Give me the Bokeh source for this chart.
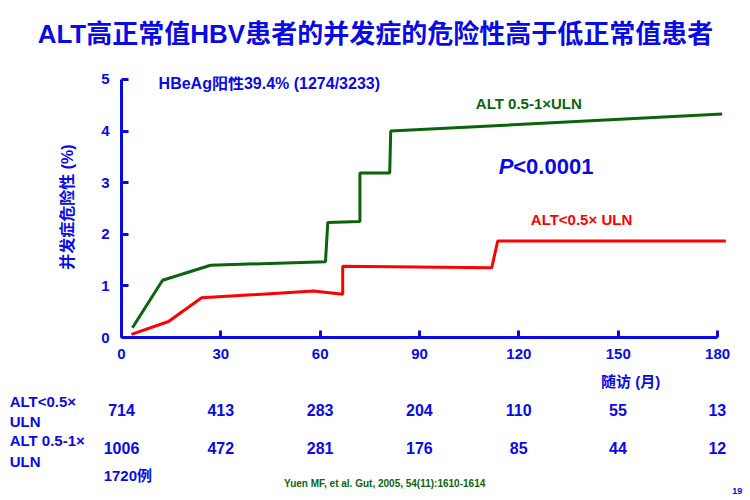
from bokeh.plotting import figure
from bokeh.layouts import column
from bokeh.models import Range1d, FixedTicker, Label, LabelSet, ColumnDataSource
from bokeh.core.properties import value
from bokeh.embed import file_html
from bokeh.resources import INLINE

BLUE = "#0A0AE6"
GREEN = "#0B640B"
RED = "#FF0000"
FONT = "Liberation Sans, Noto Sans CJK SC"

# Cumulative risk curves (months, %)
green_months = [3.3, 12.4, 26.9, 61.6, 62.3, 72.0, 72.0, 81.0, 81.3, 181.4]
green_risk = [0.19, 1.11, 1.40, 1.47, 2.23, 2.25, 3.19, 3.19, 4.00, 4.33]
red_months = [3.0, 14.2, 24.2, 58.0, 66.8, 66.8, 111.8, 113.6, 182.5]
red_risk = [0.06, 0.31, 0.77, 0.90, 0.84, 1.38, 1.35, 1.87, 1.87]

x_ticks = [0, 30, 60, 90, 120, 150, 180]
y_ticks = [0, 1, 2, 3, 4, 5]

# Number at risk
risk_months = [0, 30, 60, 90, 120, 150, 180]
at_risk_low = [714, 413, 283, 204, 110, 55, 13]
at_risk_high = [1006, 472, 281, 176, 85, 44, 12]

title_text = "ALT高正常值HBV患者的并发症的危险性高于低正常值患者"
y_label = "并发症危险性 (%)"

X_FULL = (-36.56, 190.03)   # x scale across the full 750 px width


def bare(height, yr):
    f = figure(width=750, height=height, output_backend="svg", toolbar_location=None,
               x_range=Range1d(*X_FULL), y_range=Range1d(*yr),
               x_axis_type=None, y_axis_type=None, frame_align=False,
               min_border_left=0, min_border_right=0, min_border_top=0, min_border_bottom=0)
    f.outline_line_color = None
    f.xgrid.visible = False
    f.ygrid.visible = False
    f.title.text = ""
    return f


def lab(fig, x, y, text, size, color=BLUE, align="left", style="bold"):
    fig.add_layout(Label(x=x, y=y, text=text, text_font=FONT, text_font_size=size,
                         text_font_style=style, text_color=color, text_align=align,
                         text_baseline="middle"))


# ---- title strip ----
top = bare(60, (5.368, 6.531))
lab(top, 76.7, 5.89, title_text, "26px", align="center")

# ---- main chart ----
p = figure(width=750, height=310, output_backend="svg", toolbar_location=None,
           x_range=Range1d(0, 183), y_range=Range1d(0, 5.058), frame_align=False,
           min_border_left=121, min_border_right=23, min_border_top=16, min_border_bottom=33)
p.title.text = ""
p.outline_line_color = None
p.xgrid.visible = False
p.ygrid.visible = False

for ax in (p.xaxis[0], p.yaxis[0]):
    ax.axis_line_color = BLUE
    ax.axis_line_width = 3
    ax.major_tick_line_color = BLUE
    ax.major_tick_line_width = 3
    ax.major_tick_in = 7
    ax.major_tick_out = 0
    ax.minor_tick_line_color = None
    ax.major_label_text_color = BLUE
    ax.major_label_text_font = FONT
    ax.major_label_text_font_style = "bold"
    ax.major_label_text_font_size = "15px"

p.xaxis.ticker = FixedTicker(ticks=x_ticks)
p.yaxis.ticker = FixedTicker(ticks=y_ticks)
p.xaxis.bounds = (0, 180)
p.yaxis.bounds = (0, 5)
p.xaxis.major_label_standoff = 11
p.yaxis.major_label_standoff = 12
p.yaxis.axis_label = y_label
p.yaxis.axis_label_text_color = BLUE
p.yaxis.axis_label_text_font = FONT
p.yaxis.axis_label_text_font_style = "bold"
p.yaxis.axis_label_text_font_size = "16px"
p.yaxis.axis_label_standoff = 22

p.line(green_months, green_risk, line_color=GREEN, line_width=3)
p.line(red_months, red_risk, line_color=RED, line_width=3)

lab(p, 11.2, 4.92, "HBeAg阳性39.4% (1274/3233)", "16px")
lab(p, 107.0, 4.53, "ALT 0.5-1×ULN", "15px", color=GREEN)
lab(p, 113.9, 3.31, "P", "22px", style="bold italic")
lab(p, 118.3, 3.31, "<0.0001", "22px")
lab(p, 123.6, 2.29, "ALT<0.5× ULN", "15px", color=RED)

# ---- number-at-risk table ----
bot = bare(130, (-3.159, -0.640))
lab(bot, 153.8, -0.85, "随访 (月)", "15px", align="center")
lab(bot, -33.8, -1.24, "ALT<0.5×", "15px")
lab(bot, -33.8, -1.63, "ULN", "15px")
lab(bot, -33.8, -2.00, "ALT 0.5-1×", "15px")
lab(bot, -33.8, -2.40, "ULN", "15px")
lab(bot, -5.4, -2.67, "1720例", "15px")
lab(bot, 79.5, -2.83, "Yuen MF, et al. Gut, 2005, 54(11):1610-1614", "10px", color=GREEN, align="center")
lab(bot, 186.0, -2.97, "19", "9px", align="center")

src = ColumnDataSource(dict(
    x=risk_months + risk_months,
    y=[-1.40] * len(risk_months) + [-2.15] * len(risk_months),
    t=[str(v) for v in at_risk_low] + [str(v) for v in at_risk_high],
))
bot.add_layout(LabelSet(x="x", y="y", text="t", source=src, text_font=value(FONT),
                        text_font_size=value("16px"), text_font_style=value("bold"),
                        text_color=value(BLUE), text_align=value("center"),
                        text_baseline=value("middle")))

layout = column(top, p, bot, spacing=0)
open("out.html", "w").write(file_html(layout, INLINE))
